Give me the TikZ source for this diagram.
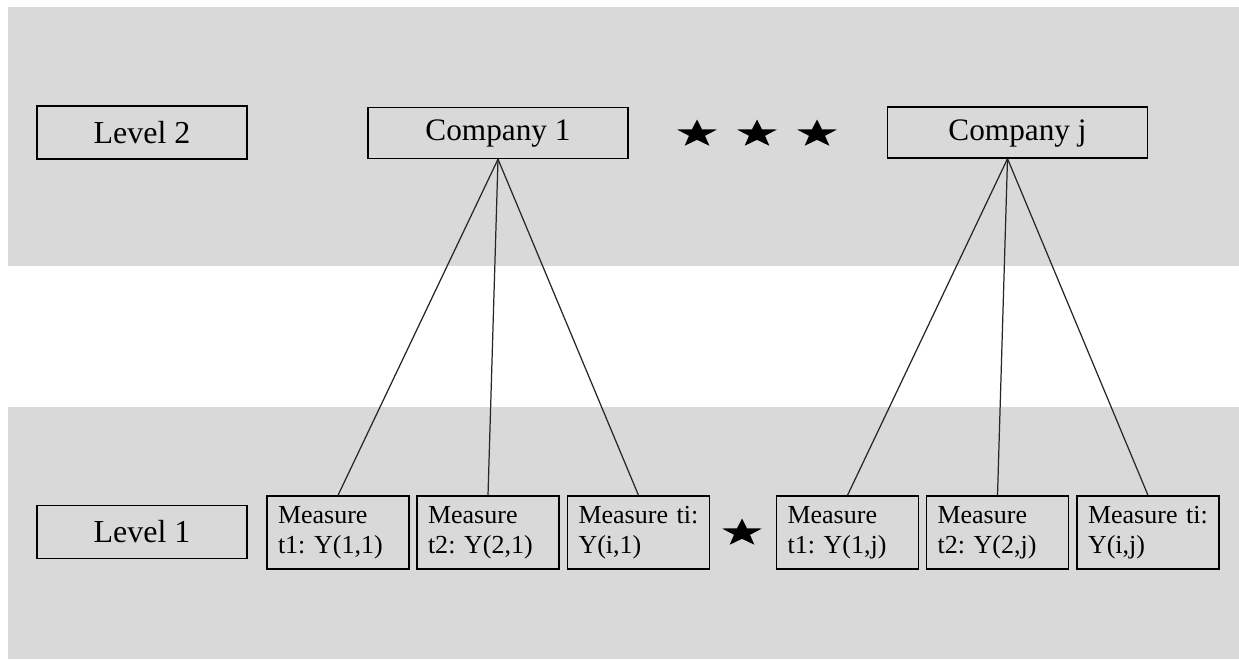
\documentclass[tikz,border=0pt]{standalone}
\usepackage{fontspec}
\setmainfont{Liberation Serif}
\usetikzlibrary{shapes.geometric}
\definecolor{bandgray}{HTML}{D9D9D9}
\definecolor{linegray}{HTML}{262626}
\frenchspacing

\begin{document}
\begin{tikzpicture}[x=0.02cm,y=-0.02cm,
		levelbox/.style={draw,line width=0.8pt,minimum width=4.2cm,minimum height=1.06cm,inner sep=0pt,font=\fontsize{18.2}{20}\selectfont},
		compbox/.style={draw,line width=0.8pt,minimum width=5.2cm,minimum height=1.02cm,inner sep=0pt,text depth=0.1cm,font=\fontsize{17.8}{20}\selectfont},
		measbox/.style={draw,line width=0.8pt,minimum width=2.84cm,minimum height=1.46cm,inner xsep=0.22cm,inner ysep=0pt,text width=2.4cm,align=left,font=\fontsize{14.8}{17.2}\selectfont},
		starmark/.style={star,star points=5,star point ratio=2.5,fill=black,draw=none,minimum size=0.58cm,inner sep=0pt,xscale=1.45},
		link/.style={linegray,line width=0.7pt}]
		\fill[white] (0,0) rectangle (1239,659);
		\fill[bandgray] (8,7) rectangle (1239,266);
		\fill[bandgray] (8,407) rectangle (1239,659);
		% level labels
		\node[levelbox] (lev2) at (142,132.5) {Level 2};
		\node[levelbox] (lev1) at (142,532) {Level 1};
		% companies
		\node[compbox] (c1) at (498,133) {Company 1};
		\node[compbox] (cj) at (1017.5,132.5) {Company j};
		\node[starmark] (s1) at (697,134) {};
		\node[starmark] (s2) at (757,134) {};
		\node[starmark] (s3) at (817,134) {};
		% measures
		\node[measbox] (m11) at (338,532.5) {Measure\\t1: Y(1,1)};
		\node[measbox] (m21) at (488,532.5) {Measure\\t2: Y(2,1)};
		\node[measbox] (mi1) at (638.5,532.5) {Measure ti:\\Y(i,1)};
		\node[starmark] (s4) at (742,533) {};
		\node[measbox] (m1j) at (847.5,532.5) {Measure\\t1: Y(1,j)};
		\node[measbox] (m2j) at (997.5,532.5) {Measure\\t2: Y(2,j)};
		\node[measbox] (mij) at (1148,532.5) {Measure ti:\\Y(i,j)};
		\draw[link] (c1.south) -- (m11.north);
		\draw[link] (c1.south) -- (m21.north);
		\draw[link] (c1.south) -- (mi1.north);
		\draw[link] ([xshift=-0.2cm]cj.south) -- (m1j.north);
		\draw[link] ([xshift=-0.2cm]cj.south) -- (m2j.north);
		\draw[link] ([xshift=-0.2cm]cj.south) -- (mij.north);
\end{tikzpicture}
\end{document}
